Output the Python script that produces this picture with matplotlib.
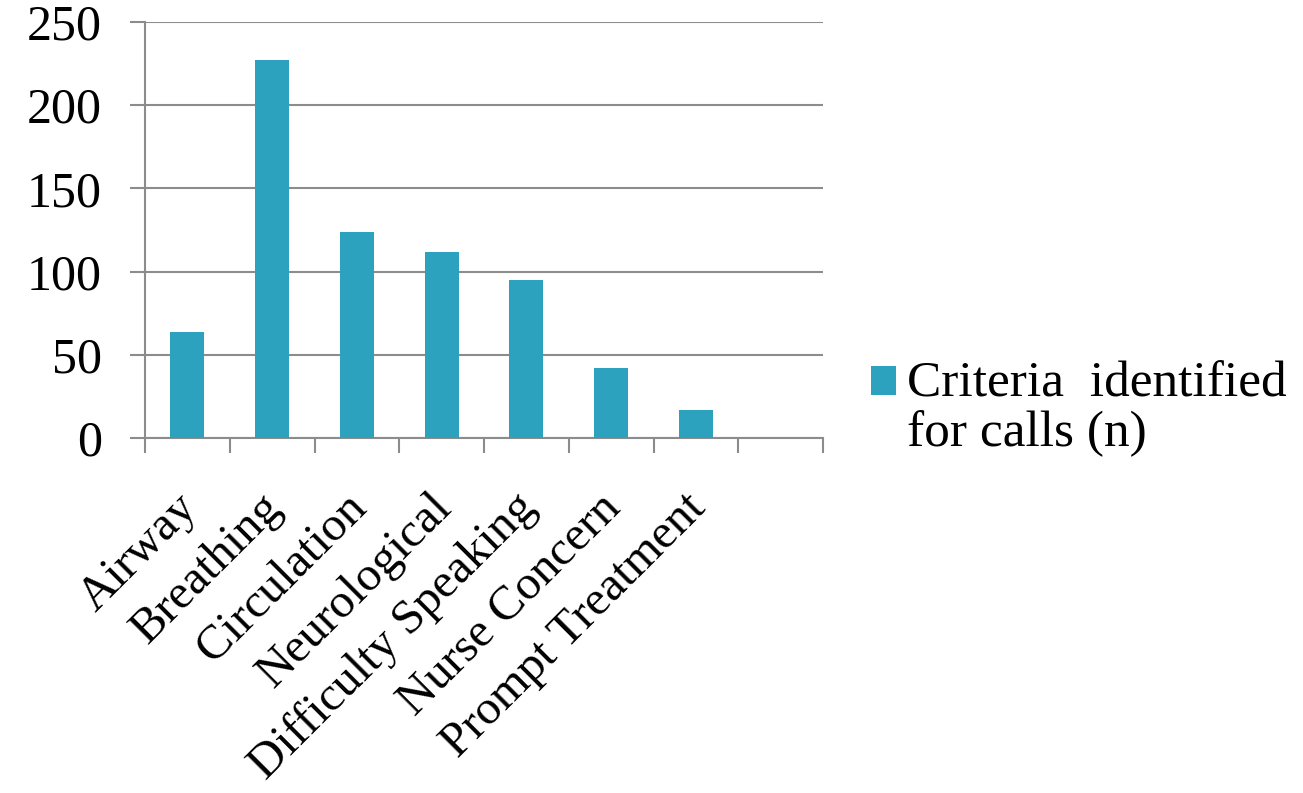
import matplotlib
matplotlib.use("Agg")
import matplotlib.pyplot as plt
from matplotlib.legend_handler import HandlerPatch
from matplotlib.patches import Rectangle
from matplotlib.container import BarContainer
import numpy as np

categories = ["Airway", "Breathing", "Circulation", "Neurological",
              "Difficulty Speaking", "Nurse Concern", "Prompt Treatment", ""]
values = [64, 227, 124, 112, 95, 42, 17, None]
yticks = [0, 50, 100, 150, 200, 250]
series_name = "Criteria  identified\nfor calls (n)"

bar_color = "#2CA2BF"
grid_color = "#8C8C8C"

plt.rcParams['font.family'] = ['Liberation Serif', 'DejaVu Serif']

fig = plt.figure(figsize=(13.03, 7.93), dpi=100)
ax = fig.add_axes([145/1303, 1-438/793, (823-145)/1303, (438-22)/793])

x = np.arange(len(categories))
vals = [v if v is not None else 0 for v in values]
bars = ax.bar(x[:7], vals[:7], width=0.4, color=bar_color, zorder=3, label=series_name)

ax.set_xlim(-0.5, len(categories) - 0.5)
ax.set_ylim(0, 250)
ax.set_yticks(yticks)
ax.set_yticklabels([str(t) for t in yticks], fontsize=36)
ax.yaxis.grid(True, color=grid_color, linewidth=1.5, zorder=0)
ax.tick_params(axis='y', length=11, width=1.5, color=grid_color, pad=20)

ax.set_xticks(np.arange(len(categories) + 1) - 0.5, minor=False)
ax.set_xticklabels([])
ax.tick_params(axis='x', length=11, width=1.5, color=grid_color)
for i, c in enumerate(categories):
    if c:
        ax.annotate(c, xy=(i, 0), xycoords='data', xytext=(-9, -34),
                    textcoords='offset points', rotation=45, ha='right', va='top',
                    rotation_mode='anchor', fontsize=35, annotation_clip=False)

for s in ['top', 'right']:
    ax.spines[s].set_visible(False)
for s in ['left', 'bottom']:
    ax.spines[s].set_color(grid_color)
    ax.spines[s].set_linewidth(1.5)


def square_patch(legend, orig_handle, xdescent, ydescent, width, height, fontsize):
    return Rectangle((-xdescent, -ydescent + 20), width, height)


def first_child(legend_handle, orig_handle):
    legend_handle.update_from(orig_handle[0])


leg = fig.legend(handles=[bars], labels=[series_name], loc='upper left',
                 bbox_to_anchor=(850/1303, 1-340/793), frameon=False,
                 fontsize=37, handlelength=0.5, handleheight=0.5,
                 handletextpad=0.2, borderaxespad=0,
                 handler_map={BarContainer: HandlerPatch(patch_func=square_patch,
                                                         update_func=first_child)})
for t in leg.get_texts():
    t.set_linespacing(1.1)

fig.savefig("out.png", dpi=100)
